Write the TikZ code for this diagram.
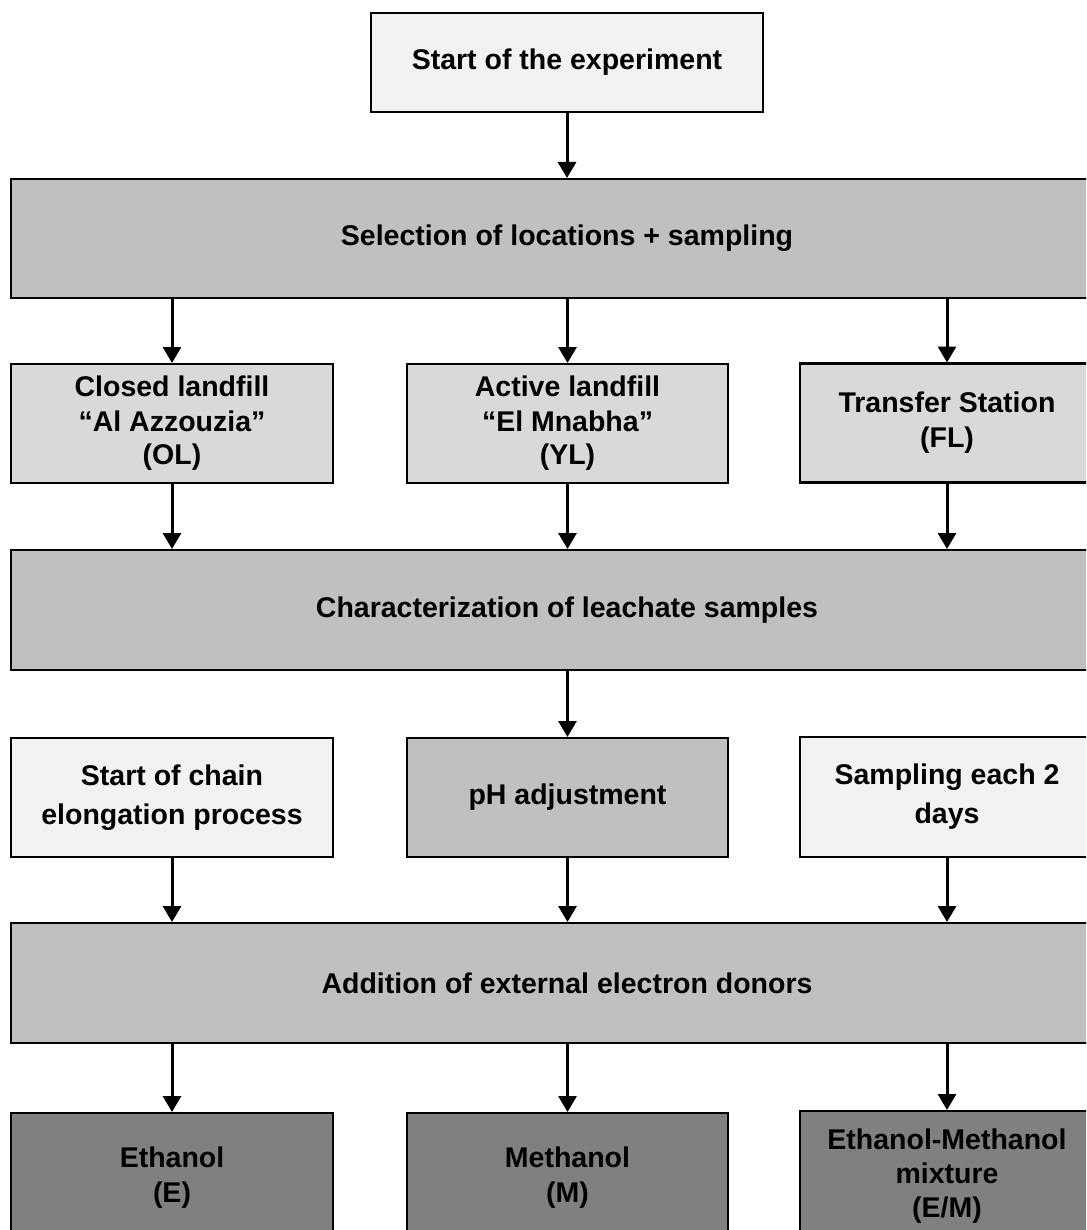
\documentclass[tikz,border=0pt]{standalone}
\usepackage{fontspec}
\setmainfont{Liberation Sans}
\usetikzlibrary{arrows.meta}
\definecolor{lightbox}{HTML}{F2F2F2}
\definecolor{midbox}{HTML}{D9D9D9}
\definecolor{greybox}{HTML}{C0C0C0}
\definecolor{darkbox}{HTML}{808080}
\tikzset{
  box/.style={draw=black, line width=2.8pt, rectangle, inner sep=0pt, outer sep=0pt,
    align=center, font=\fontsize{28.5}{34}\selectfont\bfseries},
  arr/.style={line width=3pt, -{Triangle[width=18pt,length=16pt]}, shorten >=1pt}
}
\begin{document}
\begin{tikzpicture}[x=1pt,y=-1pt]
\useasboundingbox (0,0) rectangle (1086,1230);
\clip (0,0) rectangle (1086,1230);
\fill[white] (0,0) rectangle (1086,1230);
% row 0
\node[box, fill=lightbox, minimum width=392pt, minimum height=99pt] (start) at (567,62.5) {Start of the experiment};
% row 1
\node[box, fill=greybox, minimum width=1112pt, minimum height=119pt] (sel) at (567,238.5) {Selection of locations + sampling};
% row 2
\node[box, fill=midbox, minimum width=322pt, minimum height=119pt] (ol) at (172,423.5) {Closed landfill\\[1pt]\textquotedblleft Al Azzouzia\textquotedblright\\[-1pt](OL)};
\node[box, fill=midbox, minimum width=321pt, minimum height=119pt] (yl) at (567.5,423.5) {Active landfill\\[1pt]\textquotedblleft El Mnabha\textquotedblright\\[-1pt](YL)};
\node[box, fill=midbox, minimum width=294pt, minimum height=119pt] (fl) at (947,423) {Transfer Station\\[1pt](FL)};
% row 3
\node[box, fill=greybox, minimum width=1112pt, minimum height=120pt] (char) at (567,610) {Characterization of leachate samples};
% row 4
\node[box, fill=lightbox, minimum width=322pt, minimum height=119pt, font=\fontsize{28.5}{39}\selectfont\bfseries] (chain) at (172,797.5) {Start of chain\\elongation process};
\node[box, fill=greybox, minimum width=321pt, minimum height=119pt] (ph) at (567.5,797.5) {pH adjustment};
\node[box, fill=lightbox, minimum width=294pt, minimum height=120pt, font=\fontsize{28.5}{39}\selectfont\bfseries] (samp) at (947,797) {Sampling each 2\\days};
% row 5
\node[box, fill=greybox, minimum width=1112pt, minimum height=120pt] (add) at (567,983) {Addition of external electron donors};
% row 6
\node[box, fill=darkbox, minimum width=322pt, minimum height=130pt, font=\fontsize{28.5}{35}\selectfont\bfseries] (eth) at (172,1178) {Ethanol\\(E)};
\node[box, fill=darkbox, minimum width=321pt, minimum height=130pt, font=\fontsize{28.5}{35}\selectfont\bfseries] (meth) at (567.5,1178) {Methanol\\(M)};
\node[box, fill=darkbox, minimum width=294pt, minimum height=130pt, font=\fontsize{28.5}{34}\selectfont\bfseries] (em) at (947,1176) {Ethanol-Methanol\\mixture\\(E/M)};
% connectors
\draw[arr] (start.south) -- (sel.north -| start.south);
\draw[arr] (ol.north |- sel.south) -- (ol.north);
\draw[arr] (yl.north |- sel.south) -- (yl.north);
\draw[arr] (fl.north |- sel.south) -- (fl.north);
\draw[arr] (ol.south) -- (ol.south |- char.north);
\draw[arr] (yl.south) -- (yl.south |- char.north);
\draw[arr] (fl.south) -- (fl.south |- char.north);
\draw[arr] (ph.north |- char.south) -- (ph.north);
\draw[arr] (chain.south) -- (chain.south |- add.north);
\draw[arr] (ph.south) -- (ph.south |- add.north);
\draw[arr] (samp.south) -- (samp.south |- add.north);
\draw[arr] (eth.north |- add.south) -- (eth.north);
\draw[arr] (meth.north |- add.south) -- (meth.north);
\draw[arr] (em.north |- add.south) -- (em.north);
\end{tikzpicture}
\end{document}
